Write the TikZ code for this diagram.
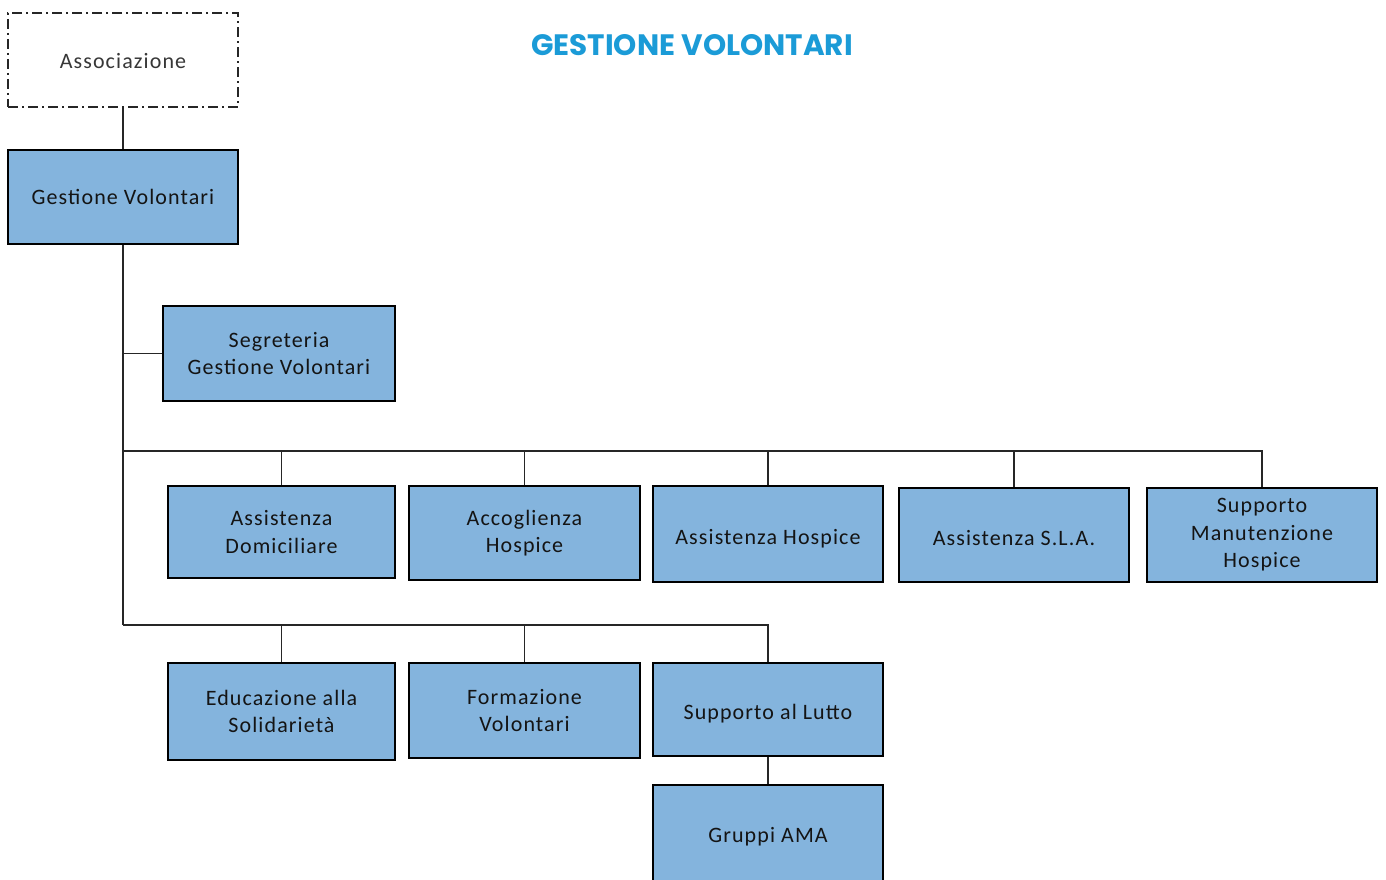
\documentclass[tikz,border=0pt]{standalone}
\usepackage{fontspec}
\setmainfont{Carlito}[LetterSpace=5]
\newfontfamily\titlefont{Poppins}
\definecolor{boxfill}{HTML}{84B4DD}
\definecolor{titleblue}{HTML}{1B9BD7}
\definecolor{txt}{HTML}{141414}
\begin{document}
\begin{tikzpicture}[x=1pt,y=-1pt,
  box/.style={draw=black, line width=1.8pt, fill=boxfill, text=txt, align=center,
    font=\fontsize{22}{27.5}\selectfont, inner sep=0pt},
  dashbox/.style={draw=black!85, line width=1.4pt, dash pattern=on 10pt off 4pt on 2pt off 4pt,
    fill=white, text=txt!85, align=center, font=\fontsize{22}{27.5}\selectfont, inner sep=0pt},
  lowtext/.style={text height=20pt, text depth=0pt},
  conn/.style={draw=black!85, line width=1.7pt}]
\clip (0,0) rectangle (1386,880);
\fill[white] (0,0) rectangle (1386,880);
\node[font=\titlefont\bfseries\fontsize{29.5}{32}\selectfont, text=titleblue] (title) at (692,45) {GESTIONE VOLONTARI};
\node[dashbox, minimum width=230pt, minimum height=94pt, text height=18pt, text depth=0pt] (assoc) at (123,60) {Associazione};
\node[box, minimum width=230pt, minimum height=94pt] (gv) at (123,197) {Gestione Volontari};
\node[box, minimum width=232pt, minimum height=95pt] (seg) at (279,353.5) {Segreteria\\Gestione Volontari};
\node[box, minimum width=227pt, minimum height=92pt] (ad) at (281.5,532) {Assistenza\\Domiciliare};
\node[box, minimum width=231pt, minimum height=94pt] (ah) at (524.5,533) {Accoglienza\\Hospice};
\node[box, lowtext, minimum width=230pt, minimum height=96pt] (ahs) at (768,534) {Assistenza Hospice};
\node[box, lowtext, minimum width=230pt, minimum height=94pt] (sla) at (1014,535) {Assistenza S.L.A.};
\node[box, minimum width=230pt, minimum height=94pt] (smh) at (1262,535) {Supporto\\Manutenzione\\Hospice};
\node[box, minimum width=227pt, minimum height=97pt] (eds) at (281.5,711.5) {Educazione alla\\Solidarietà};
\node[box, minimum width=231pt, minimum height=95pt] (fv) at (524.5,710.5) {Formazione\\Volontari};
\node[box, lowtext, minimum width=230pt, minimum height=93pt] (sl) at (768,709.5) {Supporto al Lutto};
\node[box, minimum width=230pt, minimum height=100pt, text depth=0pt] (ama) at (768,835) {Gruppi AMA};
\coordinate (t1) at (123,451);
\coordinate (t2) at (123,625);
\draw[conn] (assoc.south) -- (gv.north);
\draw[conn] (gv.south) -- (t2);
\draw[conn] (seg.west) -- (seg.west -| gv.south);
\draw[conn] (t1) -| (smh.north);
\draw[conn] (ad.north) -- (ad.north |- t1);
\draw[conn] (ah.north) -- (ah.north |- t1);
\draw[conn] (ahs.north) -- (ahs.north |- t1);
\draw[conn] (sla.north) -- (sla.north |- t1);
\draw[conn] (t2) -| (sl.north);
\draw[conn] (eds.north) -- (eds.north |- t2);
\draw[conn] (fv.north) -- (fv.north |- t2);
\draw[conn] (sl.south) -- (ama.north);
\end{tikzpicture}
\end{document}
